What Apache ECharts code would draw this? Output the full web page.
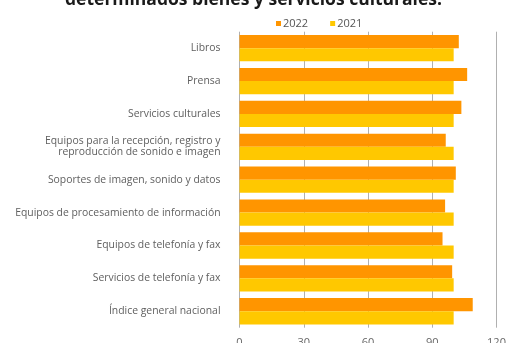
<!DOCTYPE html>
<html>
<head>
<meta charset="utf-8">
<script src="https://cdn.jsdelivr.net/npm/echarts@6/dist/echarts.min.js"></script>
<style>
  html, body { margin: 0; padding: 0; background: #ffffff; }
  #chart { width: 507px; height: 343px; }
</style>
</head>
<body>
<div id="chart"></div>
<script>
// Cultural goods and services price index, 2022 vs 2021
const categories = [
  'Libros',
  'Prensa',
  'Servicios culturales',
  'Equipos para la recepción, registro y\nreproducción de sonido e imagen',
  'Soportes de imagen, sonido y datos',
  'Equipos de procesamiento de información',
  'Equipos de telefonía y fax',
  'Servicios de telefonía y fax',
  'Índice general nacional'
];
const values2022 = [102.4, 106.3, 103.6, 96.3, 101.0, 96.0, 94.8, 99.3, 108.9];
const values2021 = [100, 100, 100, 100, 100, 100, 100, 100, 100];
const seriesNames = ['2022', '2021'];
const xTicks = { min: 0, max: 120, interval: 30 };
const titleLine = 'determinados bienes y servicios culturales.';

const chart = echarts.init(document.getElementById('chart'), null, { renderer: 'canvas' });

chart.setOption({
  backgroundColor: '#ffffff',
  animation: false,
  graphic: [{
    type: 'text',
    left: 'center',
    top: -9,
    style: {
      text: titleLine,
      font: 'bold 17.5px "Open Sans", sans-serif',
      fill: '#1a1a1a'
    }
  }],
  legend: {
    data: seriesNames,
    left: 271,
    top: 13,
    icon: 'rect',
    itemWidth: 5,
    itemHeight: 5,
    itemGap: 22,
    textStyle: { fontFamily: 'Open Sans', fontSize: 11, color: '#555555', padding: [0, 0, 0, -3] }
  },
  grid: { left: 239.5, right: 10.5, top: 31.7, bottom: 15.3, outerBoundsMode: 'none' },
  xAxis: {
    type: 'value',
    min: xTicks.min,
    max: xTicks.max,
    interval: xTicks.interval,
    axisLine: { show: false },
    axisTick: { show: false },
    axisLabel: { fontFamily: 'Open Sans', fontSize: 11, color: '#666666', margin: 10 },
    splitLine: { lineStyle: { color: '#b0b0b0', width: 1 } }
  },
  yAxis: {
    type: 'category',
    inverse: true,
    data: categories,
    axisLine: { show: false },
    axisTick: { show: false },
    axisLabel: {
      fontFamily: 'Open Sans',
      fontSize: 10.4,
      lineHeight: 11,
      color: '#606060',
      margin: 19,
      align: 'right',
      padding: [3, 0, 0, 0]
    }
  },
  series: [
    {
      name: seriesNames[0],
      type: 'bar',
      data: values2022,
      itemStyle: { color: '#ff9500' },
      barGap: '0%',
      barCategoryGap: '20%'
    },
    {
      name: seriesNames[1],
      type: 'bar',
      data: values2021,
      itemStyle: { color: '#ffc800' },
      barGap: '0%',
      barCategoryGap: '20%'
    }
  ]
});
</script>
</body>
</html>
